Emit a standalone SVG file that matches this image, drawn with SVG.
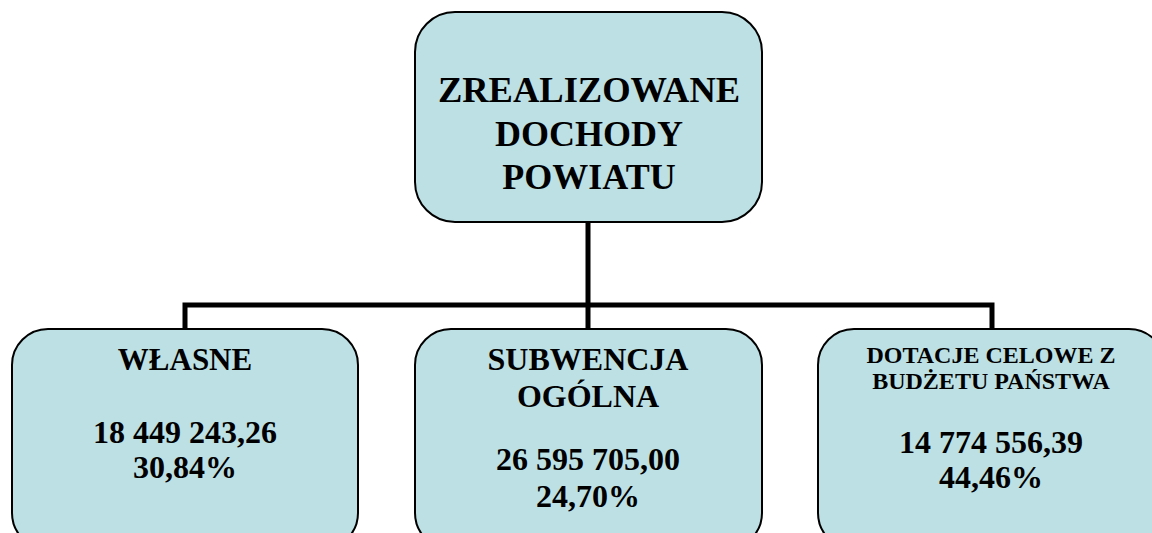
<svg xmlns="http://www.w3.org/2000/svg" width="1152" height="533" viewBox="0 0 1152 533">
<style>
.box{fill:#BCE0E4;stroke:#000;stroke-width:2}
.t{font-family:"Liberation Serif","Times New Roman",serif;font-weight:bold;fill:#000;text-anchor:middle}
.n{font-size:32px}
.conn{fill:none;stroke:#000;stroke-width:5;stroke-linecap:square}
</style>
<rect width="1152" height="533" fill="#fff"/>
<g id="connectors">
<path class="conn" d="M588 223 V305 M185 305 H992 M185 305 V328 M588 305 V328 M992 305 V328"/>
</g>
<g id="root">
<rect class="box" x="415" y="12" width="347" height="210" rx="40" ry="40"/>
<text class="t" x="589" y="102" font-size="36.5">ZREALIZOWANE</text>
<text class="t" x="589" y="146" font-size="36">DOCHODY</text>
<text class="t" x="589" y="189" font-size="36">POWIATU</text>
</g>
<g id="wlasne">
<rect class="box" x="12" y="329" width="346" height="220" rx="36" ry="36"/>
<text class="t" x="185" y="370" font-size="31">WŁASNE</text>
<text class="t n" x="185" y="443">18 449 243,26</text>
<text class="t n" x="185" y="478">30,84%</text>
</g>
<g id="subwencja">
<rect class="box" x="415" y="329" width="347" height="220" rx="36" ry="36"/>
<text class="t" x="588" y="370" font-size="32">SUBWENCJA</text>
<text class="t" x="588" y="407" font-size="32">OGÓLNA</text>
<text class="t n" x="588" y="470">26 595 705,00</text>
<text class="t n" x="588" y="507">24,70%</text>
</g>
<g id="dotacje">
<rect class="box" x="818" y="329" width="347" height="220" rx="36" ry="36"/>
<text class="t" x="991" y="363" font-size="24">DOTACJE CELOWE Z</text>
<text class="t" x="991" y="389" font-size="24">BUDŻETU PAŃSTWA</text>
<text class="t n" x="991" y="453">14 774 556,39</text>
<text class="t n" x="991" y="488">44,46%</text>
</g>
</svg>
